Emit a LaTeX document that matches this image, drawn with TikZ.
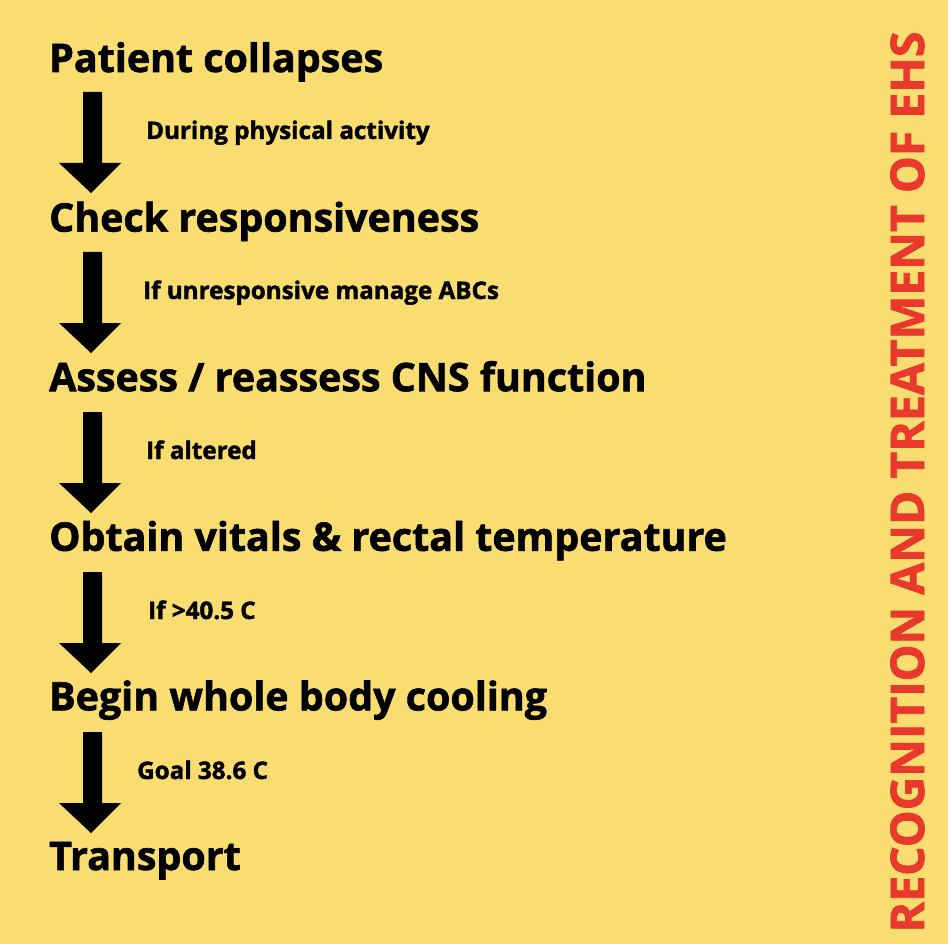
\documentclass[tikz,border=0pt]{standalone}
\usepackage{fontspec}
\setmainfont{Open Sans}[BoldFeatures={FakeBold=1.6}]
\definecolor{bgyellow}{HTML}{F9DD70}
\definecolor{titlered}{HTML}{E8392C}
\begin{document}
\begin{tikzpicture}[x=1pt,y=-1pt,
  heading/.style={anchor=base west,inner sep=0pt,font=\fontsize{39.4}{44}\selectfont\bfseries},
  cond/.style={anchor=base west,inner sep=0pt,font=\fontsize{24.2}{28}\selectfont\bfseries},
  downarrow/.style={fill=black}]
\fill[bgyellow] (0,0) rectangle (948,944);
\useasboundingbox (0,0) rectangle (948,944);
\foreach \i/\t in {0/{Patient collapses},1/{Check responsiveness},2/{Assess / reassess CNS function},3/{Obtain vitals \& rectal temperature},4/{Begin whole body cooling},5/{Transport}}{
  \node[heading] (h\i) at (49,{72+159.6*\i}) {\t};
}
\foreach \i/\x/\t in {0/146/{During physical activity},1/143/{If unresponsive manage ABCs},2/146/{If altered},3/148/{If >40.5 C},4/137/{Goal 38.6 C}}{
  \node[cond] (c\i) at (\x,{139+160*\i}) {\t};
  \fill[downarrow] (83,{92+160*\i}) -- (102,{92+160*\i}) -- (102,{163+160*\i}) -- (121,{163+160*\i}) -- (91,{193+160*\i}) -- (59,{163+160*\i}) -- (83,{163+160*\i}) -- cycle;
}
\node[rotate=90,anchor=base,inner sep=0pt,text=titlered,font=\fontsize{46.4}{50}\selectfont\bfseries] (title) at (924,482) {RECOGNITION AND TREATMENT OF EHS};
\end{tikzpicture}
\end{document}
